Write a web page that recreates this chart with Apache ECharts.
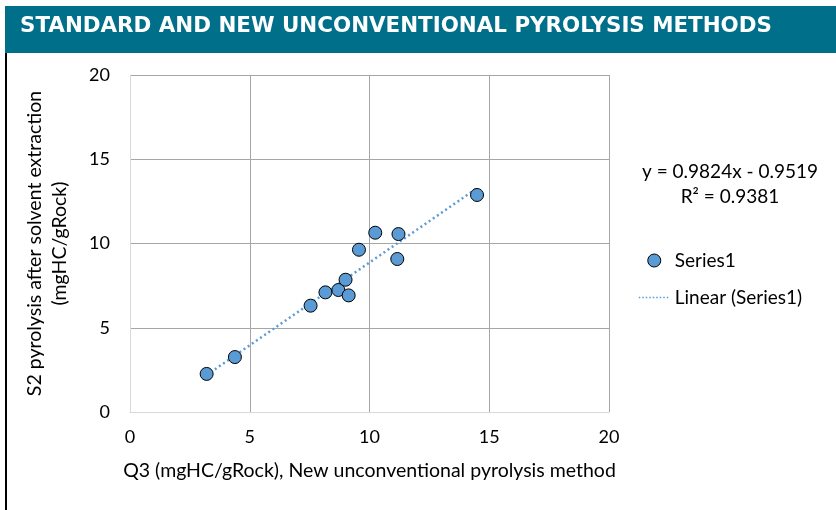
<!DOCTYPE html>
<html>
<head>
<meta charset="utf-8">
<style>
  html, body { margin: 0; padding: 0; background: #fff; }
  #chart { width: 836px; height: 510px; }
</style>
<script src="https://cdn.jsdelivr.net/npm/echarts@6/dist/echarts.min.js"></script>
</head>
<body>
<div id="chart"></div>
<script>
// measured points (Q3, S2)
const q3Values = [3.20, 4.38, 7.54, 8.16, 8.70, 9.13, 9.00, 9.56, 10.24, 11.21, 11.16, 14.49];
const s2Values = [2.26, 3.26, 6.31, 7.10, 7.24, 6.92, 7.85, 9.63, 10.64, 10.56, 9.08, 12.88];
const axisTicks = [0, 5, 10, 15, 20];
const trendSlope = 0.9824;
const trendIntercept = -0.9519;
const rSquared = 0.9381;

const font = "Lato";
const chart = echarts.init(document.getElementById("chart"));

const points = q3Values.map((x, i) => [x, s2Values[i]]);
const xMin = Math.min(...q3Values);
const xMax = Math.max(...q3Values);
// trendline runs over the data range
const trend = [xMin, xMax].map((x) => [x, trendSlope * x + trendIntercept]);

const axisBase = {
  type: "value",
  min: axisTicks[0],
  max: axisTicks[axisTicks.length - 1],
  interval: 5,
  axisLine: { show: true, lineStyle: { color: "#d9d9d9", width: 1 } },
  axisTick: { show: false },
  splitLine: { show: true, lineStyle: { color: "#a6a6a6", width: 1 } },
  axisLabel: { color: "#000", fontFamily: font, fontSize: 18 },
  nameTextStyle: { color: "#000", fontFamily: font, fontSize: 19.5, lineHeight: 25 },
  nameLocation: "middle",
};

const option = {
  backgroundColor: "#fff",
  animation: false,
  grid: { left: 130, right: 227, top: 75, bottom: 98 },
  xAxis: {
    ...axisBase,
    name: "Q3 (mgHC/gRock), New unconventional pyrolysis method",
    nameGap: 46,
    axisLabel: { ...axisBase.axisLabel, margin: 16 },
  },
  yAxis: {
    ...axisBase,
    name: "S2 pyrolysis after solvent extraction\n(mgHC/gRock)",
    nameGap: 58,
    nameRotate: 90,
    axisLabel: { ...axisBase.axisLabel, margin: 20 },
  },
  legend: {
    orient: "vertical",
    left: 638,
    top: 251,
    padding: 0,
    itemGap: 18,
    itemWidth: 31,
    itemHeight: 13,
    textStyle: { color: "#000", fontFamily: font, fontSize: 19 },
    data: [
      { name: "Series1", icon: "circle", itemStyle: { color: "#5b9bd5", borderColor: "#000", borderWidth: 1 } },
      {
        name: "Linear (Series1)",
        itemStyle: { opacity: 0 },
        lineStyle: { color: "#5b9bd5", width: 1.5, type: [1.5, 2] },
      },
    ],
  },
  graphic: [
    { type: "rect", shape: { x: 5, y: 6, width: 831, height: 47 }, style: { fill: "#006f8a" } },
    {
      type: "text", left: 20, top: 16,
      style: { text: "STANDARD AND NEW UNCONVENTIONAL PYROLYSIS METHODS", fill: "#fff",
        font: "bold 21.4px 'DejaVu Sans'" },
    },
    { type: "rect", shape: { x: 5, y: 53, width: 2, height: 457 }, style: { fill: "#000" } },
    {
      type: "text", x: 730, y: 172,
      style: { text: "y = " + trendSlope + "x - " + Math.abs(trendIntercept), fill: "#000",
        font: "19px " + font, align: "center", verticalAlign: "middle" },
    },
    {
      type: "text", x: 730, y: 197,
      style: { text: "R² = " + rSquared, fill: "#000",
        font: "19px " + font, align: "center", verticalAlign: "middle" },
    },
  ],
  series: [
    {
      name: "Series1",
      type: "scatter",
      data: points,
      symbol: "circle",
      symbolSize: 13,
      itemStyle: { color: "#5b9bd5", borderColor: "#000", borderWidth: 1, opacity: 1 },
      z: 3,
    },
    {
      name: "Linear (Series1)",
      type: "line",
      data: trend,
      symbol: "none",
      lineStyle: { color: "#5b9bd5", width: 2.5, type: [2, 3] },
      itemStyle: { color: "#5b9bd5" },
      z: 2,
    },
  ],
};

chart.setOption(option);
</script>
</body>
</html>
